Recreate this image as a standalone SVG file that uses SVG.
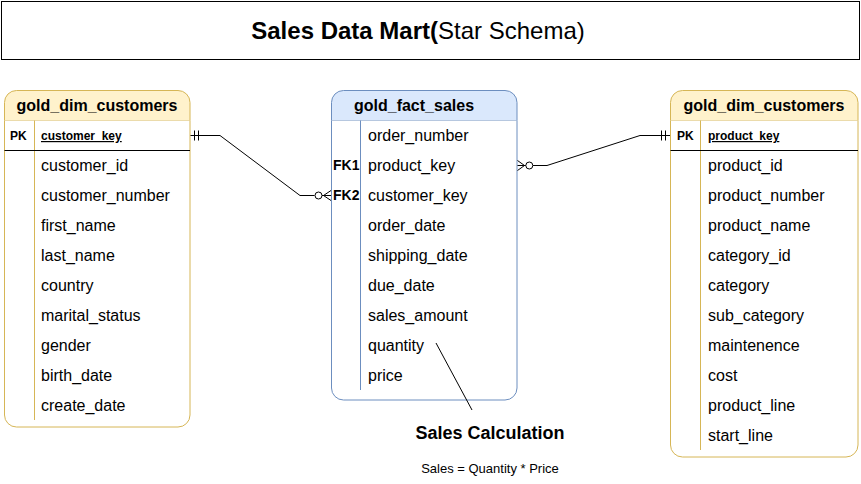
<svg xmlns="http://www.w3.org/2000/svg" width="861" height="484" viewBox="0 0 861 484">
<style>
text{font-family:"Liberation Sans",Arial,sans-serif;fill:#000}
.hdr{font-size:16px;font-weight:bold;text-anchor:middle}
.f{font-size:16px}
.pk{font-size:12px;font-weight:bold}
.pkn{font-size:12px;font-weight:bold;text-decoration:underline}
.fk{font-size:14px;font-weight:bold}
.ln{stroke:#000;stroke-width:1;fill:none}
</style>
<g id="title">
<rect x="1.5" y="1.5" width="858" height="58" fill="#fff" stroke="#000"/>
<text x="418" y="39" font-size="24" text-anchor="middle"><tspan font-weight="bold">Sales Data Mart(</tspan>Star Schema)</text>
</g>
<g id="gold_dim_customers">
<path d="M4.5 120.5 V102.5 a12 12 0 0 1 12 -12 H178 a12 12 0 0 1 12 12 V120.5 Z" fill="#fff2cc" stroke="#d6b656"/>
<path d="M4.5 120.5 V415 a12 12 0 0 0 12 12 H178 a12 12 0 0 0 12 -12 V120.5" fill="#fff" stroke="#d6b656"/>
<text class="hdr" x="97" y="111">gold_dim_customers</text>
<line x1="34.5" y1="120.5" x2="34.5" y2="420" stroke="#d6b656"/>
<line x1="4.5" y1="150.5" x2="190" y2="150.5" stroke="#000"/>
<text class="pk" x="10" y="140">PK</text>
<text class="pkn" x="41" y="140">customer_key</text>
<text class="f" x="41" y="171">customer_id</text>
<text class="f" x="41" y="201">customer_number</text>
<text class="f" x="41" y="231">first_name</text>
<text class="f" x="41" y="261">last_name</text>
<text class="f" x="41" y="291">country</text>
<text class="f" x="41" y="321">marital_status</text>
<text class="f" x="41" y="351">gender</text>
<text class="f" x="41" y="381">birth_date</text>
<text class="f" x="41" y="411">create_date</text>
</g>
<g id="gold_fact_sales">
<path d="M331.5 120.5 V102.5 a12 12 0 0 1 12 -12 H505 a12 12 0 0 1 12 12 V120.5 Z" fill="#dae8fc" stroke="#6c8ebf"/>
<path d="M331.5 120.5 V388 a12 12 0 0 0 12 12 H505 a12 12 0 0 0 12 -12 V120.5" fill="#fff" stroke="#6c8ebf"/>
<text class="hdr" x="414" y="111">gold_fact_sales</text>
<line x1="360.5" y1="120.5" x2="360.5" y2="390" stroke="#6c8ebf"/>
<text class="fk" x="333" y="170">FK1</text>
<text class="fk" x="333" y="200">FK2</text>
<text class="f" x="368" y="141">order_number</text>
<text class="f" x="368" y="171">product_key</text>
<text class="f" x="368" y="201">customer_key</text>
<text class="f" x="368" y="231">order_date</text>
<text class="f" x="368" y="261">shipping_date</text>
<text class="f" x="368" y="291">due_date</text>
<text class="f" x="368" y="321">sales_amount</text>
<text class="f" x="368" y="351">quantity</text>
<text class="f" x="368" y="381">price</text>
</g>
<g id="gold_dim_products">
<path d="M670.5 120.5 V102.5 a12 12 0 0 1 12 -12 H846 a12 12 0 0 1 12 12 V120.5 Z" fill="#fff2cc" stroke="#d6b656"/>
<path d="M670.5 120.5 V445 a12 12 0 0 0 12 12 H846 a12 12 0 0 0 12 -12 V120.5" fill="#fff" stroke="#d6b656"/>
<text class="hdr" x="764" y="111">gold_dim_customers</text>
<line x1="700.5" y1="120.5" x2="700.5" y2="450" stroke="#d6b656"/>
<line x1="670.5" y1="150.5" x2="858" y2="150.5" stroke="#000"/>
<text class="pk" x="677" y="140">PK</text>
<text class="pkn" x="708" y="140">product_key</text>
<text class="f" x="708" y="171">product_id</text>
<text class="f" x="708" y="201">product_number</text>
<text class="f" x="708" y="231">product_name</text>
<text class="f" x="708" y="261">category_id</text>
<text class="f" x="708" y="291">category</text>
<text class="f" x="708" y="321">sub_category</text>
<text class="f" x="708" y="351">maintenence</text>
<text class="f" x="708" y="381">cost</text>
<text class="f" x="708" y="411">product_line</text>
<text class="f" x="708" y="441">start_line</text>
</g>
<g id="connectors">
<path class="ln" d="M190.5 135.5 H220 L300 195.5 H314.5"/>
<path class="ln" d="M194.5 130.5 V140.5 M198.5 130.5 V140.5"/>
<circle cx="318.5" cy="195.5" r="3.5" class="ln" fill="#fff"/>
<path class="ln" d="M322 195.5 H331 M331 190.5 L323.5 195.5 L331 200.5"/>
<path class="ln" d="M533 165.5 H547 L640 135.5 H670"/>
<circle cx="529.3" cy="165.5" r="3.5" class="ln" fill="#fff"/>
<path class="ln" d="M517.5 160.5 L524.5 165.5 L517.5 170.5 M517.5 165.5 H525.8"/>
<path class="ln" d="M661.5 130.5 V140.5 M665.5 130.5 V140.5"/>
<path class="ln" d="M436 343 L472 410"/>
</g>
<g id="note">
<text x="490" y="439" font-size="18" font-weight="bold" text-anchor="middle">Sales Calculation</text>
<text x="490" y="473" font-size="13" text-anchor="middle">Sales = Quantity * Price</text>
</g>
</svg>
